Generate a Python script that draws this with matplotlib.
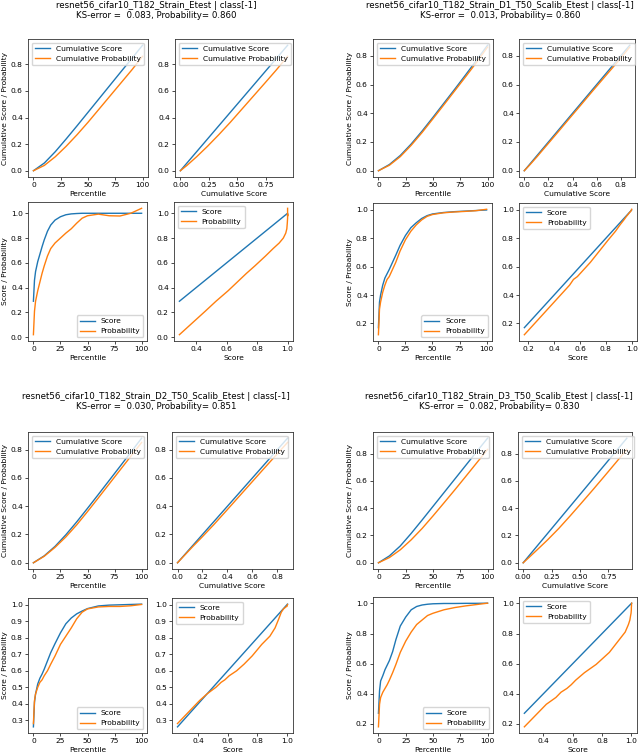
import matplotlib
matplotlib.use("Agg")
import matplotlib.pyplot as plt

# ---- data ----
pct10 = [0, 10, 20, 30, 40, 50, 60, 70, 80, 90, 100]
pct = [0, 1, 2, 4, 6, 8, 10, 13, 16, 20, 25, 30, 35, 40, 45, 50,
       60, 70, 80, 90, 100]

titles = [
    "resnet56_cifar10_T182_Strain_Etest | class[-1]\n"
    "KS-error =  0.083, Probability= 0.860",
    "resnet56_cifar10_T182_Strain_D1_T50_Scalib_Etest | class[-1]\n"
    "KS-error =  0.013, Probability= 0.860",
    "resnet56_cifar10_T182_Strain_D2_T50_Scalib_Etest | class[-1]\n"
    "KS-error =  0.030, Probability= 0.851",
    "resnet56_cifar10_T182_Strain_D3_T50_Scalib_Etest | class[-1]\n"
    "KS-error =  0.082, Probability= 0.830",
]

# cumulative score / probability at pct10
cum_score_a = [0, 0.058, 0.143, 0.239, 0.338, 0.439, 0.540, 0.641, 0.742, 0.842, 0.943]
cum_prob_a = [0, 0.040, 0.105, 0.184, 0.271, 0.364, 0.462, 0.560, 0.658, 0.756, 0.860]
cum_score_b = [0, 0.043, 0.106, 0.186, 0.276, 0.372, 0.470, 0.568, 0.668, 0.770, 0.873]
cum_prob_b = [0, 0.038, 0.098, 0.177, 0.266, 0.362, 0.459, 0.557, 0.655, 0.755, 0.860]
cum_score_c = [0, 0.049, 0.116, 0.198, 0.289, 0.385, 0.483, 0.582, 0.681, 0.781, 0.881]
cum_prob_c = [0, 0.046, 0.109, 0.183, 0.268, 0.362, 0.459, 0.557, 0.655, 0.753, 0.851]
cum_score_d = [0, 0.050, 0.123, 0.215, 0.313, 0.413, 0.513, 0.613, 0.713, 0.813, 0.912]
cum_prob_d = [0, 0.038, 0.095, 0.168, 0.251, 0.343, 0.438, 0.534, 0.632, 0.731, 0.830]

# sorted score / probability at pct
score_a = [0.29, 0.46, 0.53, 0.61, 0.67, 0.73, 0.785, 0.855, 0.905, 0.945, 0.972,
           0.988, 0.995, 0.998, 1.0, 1.0, 1.0, 1.0, 1.0, 1.0, 1.0]
prob_a = [0.02, 0.21, 0.29, 0.375, 0.445, 0.515, 0.575, 0.655, 0.715, 0.76, 0.80,
          0.84, 0.875, 0.92, 0.96, 0.98, 0.993, 0.98, 0.978, 1.0, 1.04]
score_b = [0.17, 0.35, 0.40, 0.47, 0.52, 0.55, 0.58, 0.63, 0.68, 0.75, 0.82,
           0.875, 0.91, 0.94, 0.96, 0.972, 0.982, 0.988, 0.992, 0.996, 1.0]
prob_b = [0.12, 0.30, 0.35, 0.42, 0.47, 0.51, 0.53, 0.58, 0.63, 0.71, 0.79,
          0.85, 0.895, 0.93, 0.955, 0.968, 0.98, 0.986, 0.99, 0.995, 1.005]
score_c = [0.26, 0.41, 0.46, 0.52, 0.555, 0.58, 0.61, 0.66, 0.71, 0.765, 0.83,
           0.885, 0.92, 0.945, 0.962, 0.977, 0.993, 0.998, 1.0, 1.002, 1.004]
prob_c = [0.28, 0.42, 0.46, 0.50, 0.53, 0.545, 0.57, 0.60, 0.64, 0.69, 0.76,
          0.81, 0.86, 0.915, 0.955, 0.975, 0.987, 0.99, 0.99, 0.994, 1.002]
score_d = [0.27, 0.42, 0.485, 0.52, 0.56, 0.59, 0.62, 0.68, 0.76, 0.85, 0.91,
           0.958, 0.98, 0.99, 0.995, 0.998, 1.0, 1.0, 1.001, 1.001, 1.002]
prob_d = [0.18, 0.33, 0.375, 0.41, 0.435, 0.46, 0.49, 0.54, 0.595, 0.675, 0.75,
          0.81, 0.86, 0.89, 0.92, 0.935, 0.958, 0.973, 0.984, 0.993, 1.002]

BLUE = "#1f77b4"
ORANGE = "#ff7f0e"
W, H = 640, 755

plt.rcParams.update({
    "font.family": "DejaVu Sans",
    "font.size": 5.4,
    "axes.linewidth": 0.6,
    "axes.edgecolor": "#333333",
    "xtick.major.size": 1.9,
    "ytick.major.size": 1.9,
    "xtick.major.width": 0.5,
    "ytick.major.width": 0.5,
    "xtick.major.pad": 1.8,
    "ytick.major.pad": 1.8,
    "axes.labelpad": 2.0,
    "legend.fontsize": 5.4,
    "lines.linewidth": 1.0,
})


def box(fig, x0, x1, top, bottom):
    return fig.add_axes([x0 / W, 1 - bottom / H, (x1 - x0) / W, (bottom - top) / H])


def panel(fig, boxes, title, tx, ty, cs, cp, s, p, ticks):
    fig.text(tx / W, 1 - ty / H, title, ha="center", va="top", fontsize=6.2,
             multialignment="center", linespacing=1.15)
    a1 = box(fig, *boxes[0])
    a1.plot(pct10, cs, color=BLUE, label="Cumulative Score")
    a1.plot(pct10, cp, color=ORANGE, label="Cumulative Probability")
    a1.set_xlabel("Percentile")
    a1.set_ylabel("Cumulative Score / Probability")
    a1.set_xticks([0, 25, 50, 75, 100])
    a1.set_yticks([0, 0.2, 0.4, 0.6, 0.8])
    a1.legend(loc="upper left")

    a2 = box(fig, *boxes[1])
    a2.plot(cs, cs, color=BLUE, label="Cumulative Score")
    a2.plot(cs, cp, color=ORANGE, label="Cumulative Probability")
    a2.set_xlabel("Cumulative Score")
    a2.set_xticks(ticks[0])
    a2.set_yticks([0, 0.2, 0.4, 0.6, 0.8])
    a2.legend(loc="upper left")

    a3 = box(fig, *boxes[2])
    a3.plot(pct, s, color=BLUE, label="Score")
    a3.plot(pct, p, color=ORANGE, label="Probability")
    a3.set_xlabel("Percentile")
    a3.set_ylabel("Score / Probability")
    a3.set_xticks([0, 25, 50, 75, 100])
    a3.set_yticks(ticks[1])
    a3.legend(loc="lower right")

    a4 = box(fig, *boxes[3])
    a4.plot(s, s, color=BLUE, label="Score")
    a4.plot(s, p, color=ORANGE, label="Probability")
    a4.set_xlabel("Score")
    a4.set_xticks(ticks[2])
    a4.set_yticks(ticks[1])
    a4.legend(loc="upper left")


fig = plt.figure(figsize=(W / 100, H / 100), dpi=100)

y_01 = [0, 0.2, 0.4, 0.6, 0.8, 1.0]
y_02 = [0.2, 0.4, 0.6, 0.8, 1.0]
y_03 = [0.3, 0.4, 0.5, 0.6, 0.7, 0.8, 0.9, 1.0]
x_q = [0, 0.25, 0.5, 0.75]
x_f = [0, 0.2, 0.4, 0.6, 0.8]

panel(fig, [(28, 148, 39, 177), (175, 293, 39, 177),
            (28, 147, 202, 341), (174, 293, 202, 341)],
      titles[0], 156, 1, cum_score_a, cum_prob_a, score_a, prob_a,
      (x_q, y_01, [0.4, 0.6, 0.8, 1.0]))
panel(fig, [(373, 493, 39, 177), (519, 635, 39, 177),
            (373, 492, 203, 341), (519, 637, 203, 341)],
      titles[1], 500, 1, cum_score_b, cum_prob_b, score_b, prob_b,
      (x_f, y_02, [0.2, 0.4, 0.6, 0.8, 1.0]))
panel(fig, [(28, 147, 432, 569), (172, 293, 432, 569),
            (28, 147, 598, 733), (172, 293, 598, 733)],
      titles[2], 156, 392, cum_score_c, cum_prob_c, score_c, prob_c,
      (x_f, y_03, [0.4, 0.6, 0.8, 1.0]))
panel(fig, [(373, 493, 432, 569), (518, 632, 432, 569),
            (373, 493, 597, 733), (519, 637, 597, 733)],
      titles[3], 499, 392, cum_score_d, cum_prob_d, score_d, prob_d,
      (x_q, y_02, [0.4, 0.6, 0.8, 1.0]))

fig.savefig("out.png", dpi=100)
